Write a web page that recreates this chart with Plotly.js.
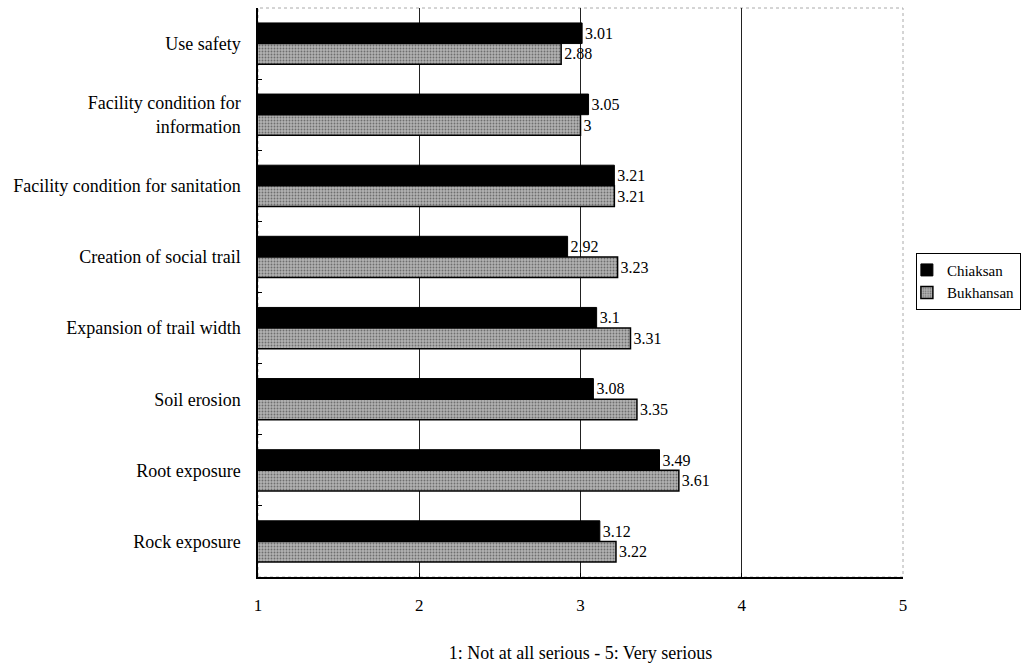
<!DOCTYPE html>
<html><head><meta charset="utf-8">
<script src="https://cdn.plot.ly/plotly-3.0.1.min.js"></script>
<style>body{margin:0;background:#fff}#c{width:1023px;height:669px}</style>
</head><body><div id="c"></div>
<script>
const categories = ["Use safety","Facility condition for<br>information","Facility condition for sanitation","Creation of social trail","Expansion of trail width","Soil erosion","Root exposure","Rock exposure"];
const chiaksan = [3.01,3.05,3.21,2.92,3.1,3.08,3.49,3.12];
const bukhansan = [2.88,3,3.21,3.23,3.31,3.35,3.61,3.22];
const xTicks = [1,2,3,4,5];
const font = "Liberation Serif";
const traces = [
 {type:'bar',orientation:'h',name:'Chiaksan',y:categories,x:chiaksan,
  marker:{color:'#000',line:{color:'#000',width:1}},
  text:chiaksan.map(String),textposition:'outside',cliponaxis:false,
  textfont:{family:font,size:16,color:'#000'}},
 {type:'bar',orientation:'h',name:'Bukhansan',y:categories,x:bukhansan,
  marker:{color:'#a8a8a8',line:{color:'#000',width:1.5},pattern:{shape:'.',fgcolor:'#6e6e6e',bgcolor:'#b2b2b2',size:3,solidity:0.3}},
  text:bukhansan.map(String),textposition:'outside',cliponaxis:false,
  textfont:{family:font,size:16,color:'#000'}}
];
const layout = {
 width:1023,height:669,
 margin:{l:258,r:120,t:8,b:92,autoexpand:false},
 paper_bgcolor:'#fff',plot_bgcolor:'#fff',
 font:{family:font,size:18,color:'#000'},
 barmode:'group',bargap:0.42,bargroupgap:0,
 showlegend:true,
 legend:{x:1.02,xanchor:'left',y:0.57,yanchor:'top',bordercolor:'#000',borderwidth:1,
   font:{family:font,size:15,color:'#000'},tracegroupgap:0,itemwidth:30,
   indentation:-10},
 shapes:[{type:'rect',xref:'paper',yref:'paper',x0:0,x1:1,y0:0,y1:1,layer:'below',
   line:{color:'#aaa',width:1,dash:'dot'}}],
 xaxis:{range:[1,5],tickvals:xTicks,ticktext:xTicks.map(String),showgrid:true,gridcolor:'#222',gridwidth:1,
   showline:true,linecolor:'#000',linewidth:1.5,ticks:'inside',ticklen:4,tickcolor:'#000',zeroline:false,
   tickfont:{family:font,size:17,color:'#000'},ticklabelstandoff:12,
   title:{text:'1: Not at all serious - 5: Very serious',font:{family:font,size:18,color:'#000'},standoff:32}},
 yaxis:{autorange:'reversed',showline:true,linecolor:'#000',linewidth:1.5,ticks:'inside',tickson:'boundaries',
   ticklen:4,tickcolor:'#000',showgrid:false,tickfont:{family:font,size:18,color:'#000'},ticklabelstandoff:12}
};
Plotly.newPlot('c',traces,layout,{displayModeBar:false});
</script></body></html>
